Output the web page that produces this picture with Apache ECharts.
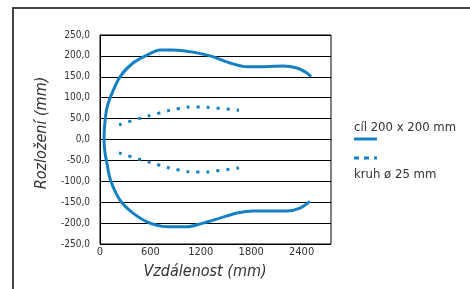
<!DOCTYPE html>
<html>
<head>
<meta charset="utf-8">
<script src="https://cdn.jsdelivr.net/npm/echarts@6/dist/echarts.min.js"></script>
<style>
    html, body {margin: 0; padding: 0; background: #fff;}
    #chart {width: 470px; height: 289px;}
</style>
</head>
<body>
<div id="chart"></div>
<script>
// data
var xTicks = [0, 600, 1200, 1800, 2400];
var yTicks = [-250, -200, -150, -100, -50, 0, 50, 100, 150, 200, 250];

// cil 200 x 200 mm - one continuous curve, upper branch (from the right end) then lower branch
var cilX = [2512, 2464, 2345, 2179, 1940, 1750, 1548, 1310, 1107, 869, 714, 560, 393, 238, 125, 78, 54, 48,
            58, 78, 125, 238, 393, 595, 833, 1036, 1226, 1429, 1631, 1821, 2024, 2226, 2381, 2500];
var cilY = [150, 159, 171, 176, 174, 174, 183, 200, 209, 214, 214, 202, 183, 150, 102, 71, 30, 0,
            -30, -52, -97, -145, -176, -200, -209, -209, -200, -188, -176, -171, -171, -171, -164, -148];

// kruh 25 mm - upper and lower dotted curves
var kruhX = [226, 464, 702, 940, 1155, 1393, 1655];
var kruhHorni = [35, 50, 63, 74, 78, 75, 70];
var kruhDolni = [-32, -47, -61, -73, -78, -75, -68];

var modra = '#1580c4';
var pismo = "'DejaVu Sans Condensed', 'Liberation Sans Narrow', sans-serif";

function spoj(xs, ys) {
    var out = [];
    for (var i = 0; i < xs.length; i++) {
        out.push([xs[i], ys[i]]);
    }
    return out;
}

var chart = echarts.init(document.getElementById('chart'));

var option = {
    animation: false,
    backgroundColor: '#fff',
    grid: {
        left: 100,
        top: 35,
        width: 231,
        height: 209,
        show: true,
        borderColor: '#000',
        borderWidth: 1
    },
    xAxis: {
        type: 'value',
        min: 0,
        max: 2750,
        axisLine: {
            onZero: true,
            lineStyle: {color: '#000', width: 1}
        },
        axisTick: {show: false},
        splitLine: {show: false},
        axisLabel: {
            customValues: xTicks,
            margin: 3,
            fontFamily: pismo,
            fontSize: 11,
            color: '#333',
            formatter: function (v) {
                return String(v);
            }
        }
    },
    yAxis: {
        type: 'value',
        min: -250,
        max: 250,
        interval: 50,
        axisLine: {
            show: true,
            lineStyle: {color: '#000', width: 1}
        },
        axisTick: {show: false},
        splitLine: {
            show: true,
            lineStyle: {color: '#000', width: 1}
        },
        axisLabel: {
            customValues: yTicks,
            margin: 10,
            fontFamily: pismo,
            fontSize: 10,
            color: '#333',
            formatter: function (v) {
                return v.toFixed(1).replace('.', ',');
            }
        }
    },
    series: [{
        name: 'cíl 200 x 200 mm',
        type: 'line',
        smooth: 0.3,
        showSymbol: false,
        lineStyle: {color: modra, width: 3},
        data: spoj(cilX, cilY)
    }, {
        name: 'kruh ø 25 mm',
        type: 'line',
        smooth: true,
        showSymbol: false,
        lineStyle: {color: modra, width: 3, type: [3, 7]},
        data: spoj(kruhX, kruhHorni)
    }, {
        name: 'kruh ø 25 mm',
        type: 'line',
        smooth: true,
        showSymbol: false,
        lineStyle: {color: modra, width: 3, type: [3, 7]},
        data: spoj(kruhX, kruhDolni)
    }],
    graphic: [{
        // outer frame
        type: 'polyline',
        shape: {points: [[13, 289], [13, 8], [470, 8]]},
        style: {stroke: '#444', lineWidth: 2, fill: null}
    }, {
        type: 'text',
        x: 205,
        y: 272,
        style: {
            text: 'Vzdálenost (mm)',
            font: 'italic 16px ' + pismo,
            fill: '#333',
            align: 'center',
            verticalAlign: 'middle'
        }
    }, {
        type: 'text',
        x: 42,
        y: 133,
        rotation: Math.PI / 2,
        style: {
            text: 'Rozložení (mm)',
            font: 'italic 16px ' + pismo,
            fill: '#333',
            align: 'center',
            verticalAlign: 'middle'
        }
    }, {
        // legend
        type: 'text',
        x: 354,
        y: 128,
        style: {
            text: 'cíl 200 x 200 mm',
            font: '13px ' + pismo,
            fill: '#333',
            verticalAlign: 'middle'
        }
    }, {
        type: 'line',
        shape: {x1: 354, y1: 139, x2: 377, y2: 139},
        style: {stroke: modra, lineWidth: 3}
    }, {
        type: 'line',
        shape: {x1: 354, y1: 158, x2: 377, y2: 158},
        style: {stroke: modra, lineWidth: 3, lineDash: [5, 5]}
    }, {
        type: 'text',
        x: 354,
        y: 175,
        style: {
            text: 'kruh ø 25 mm',
            font: '13px ' + pismo,
            fill: '#333',
            verticalAlign: 'middle'
        }
    }]
};

chart.setOption(option);
</script>
</body>
</html>
